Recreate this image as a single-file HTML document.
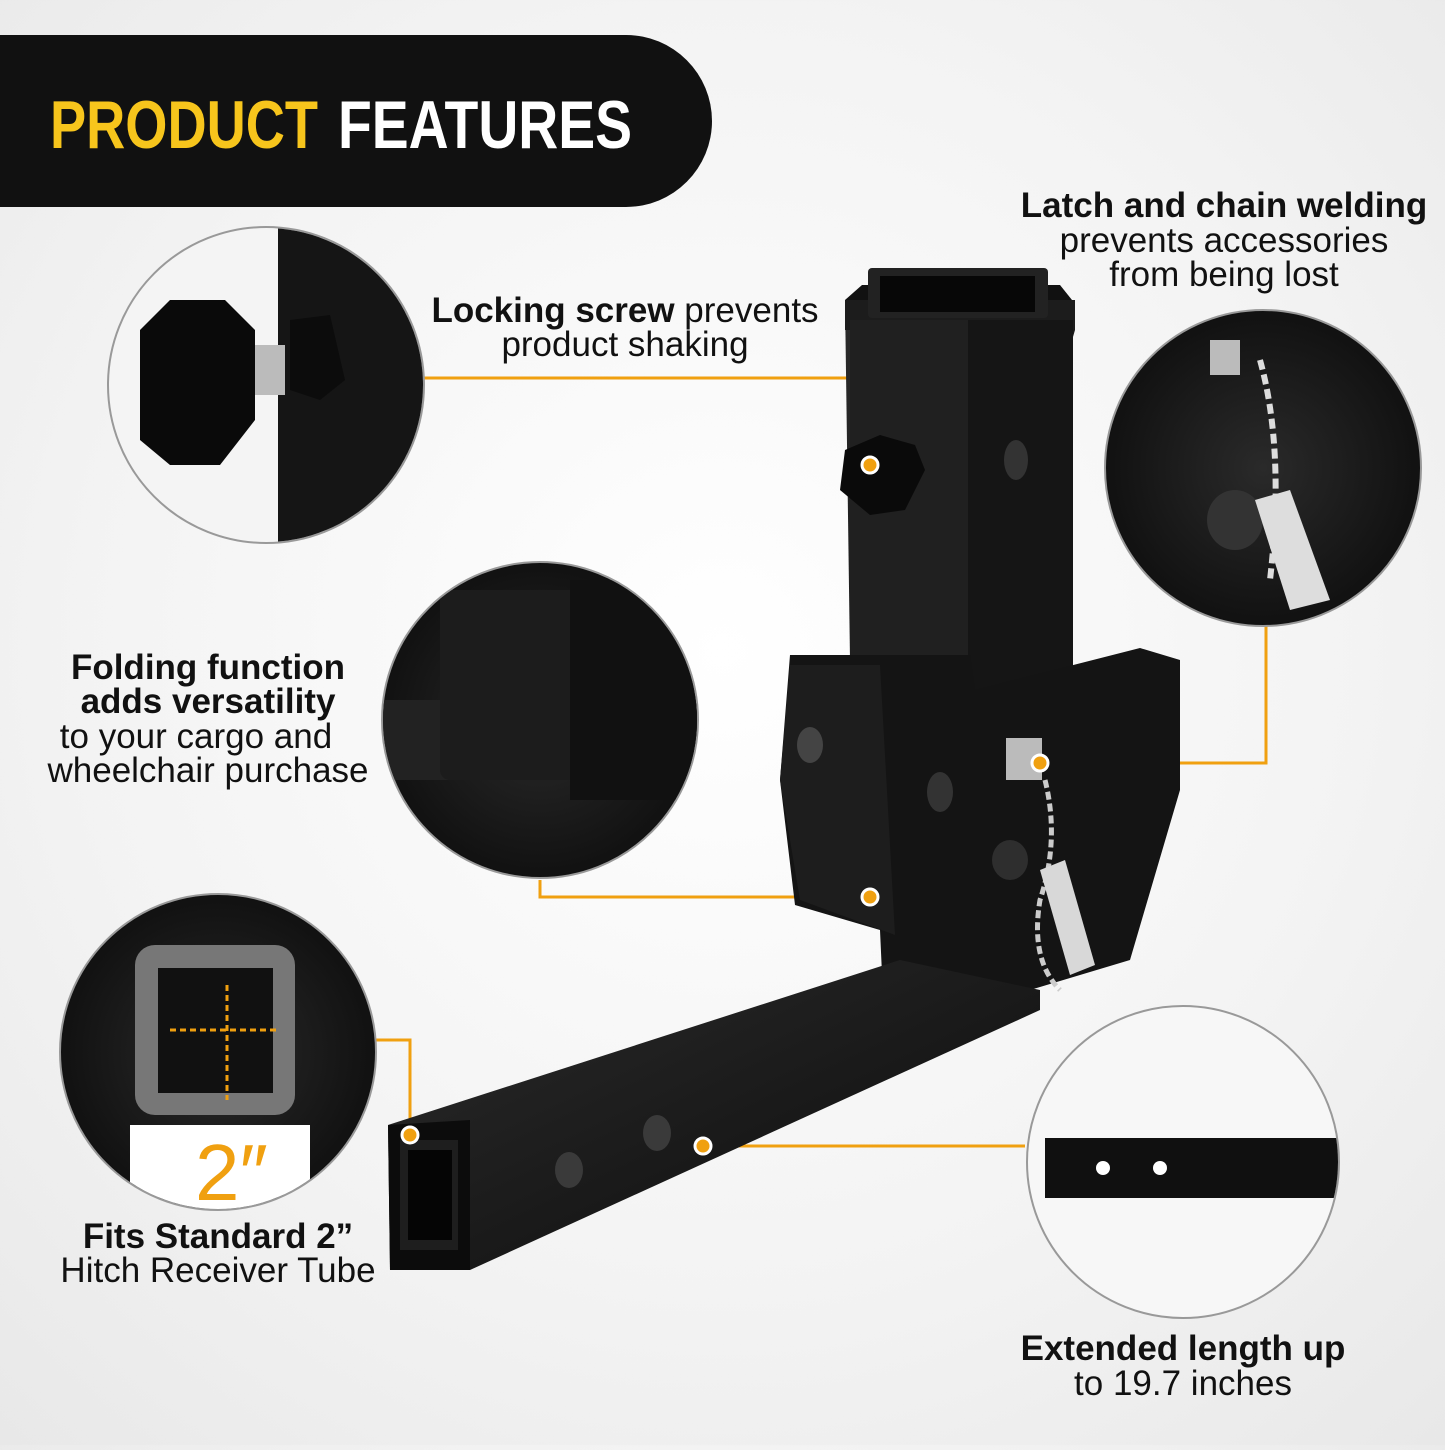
<!DOCTYPE html>
<html><head><meta charset="utf-8"><style>
html,body{margin:0;padding:0}
body{width:1445px;height:1445px;overflow:hidden;background:radial-gradient(circle at 50% 45%,#fff 0%,#f3f3f3 60%,#e8e8e8 100%);font-family:"Liberation Sans",sans-serif}
</style></head><body>
<svg width="1445" height="1445" viewBox="0 0 1445 1445" xmlns="http://www.w3.org/2000/svg" font-family="Liberation Sans, sans-serif">
<defs>
<radialGradient id="g1" cx="50%" cy="50%" r="60%"><stop offset="0" stop-color="#2a2a2a"/><stop offset="1" stop-color="#0c0c0c"/></radialGradient>
<linearGradient id="mb" x1="0" y1="0" x2="1" y2="1"><stop offset="0" stop-color="#2b2b2b"/><stop offset="1" stop-color="#0b0b0b"/></linearGradient>
<clipPath id="c1"><circle cx="266" cy="385" r="157"/></clipPath>
<clipPath id="c2"><circle cx="540" cy="720" r="157"/></clipPath>
<clipPath id="c3"><circle cx="218" cy="1052" r="157"/></clipPath>
<clipPath id="c4"><circle cx="1263" cy="468" r="157"/></clipPath>
<clipPath id="c5"><circle cx="1183" cy="1162" r="155"/></clipPath>
</defs>
<path d="M0 35 H626 A86 86 0 0 1 626 207 H0 Z" fill="#111"/>
<text x="50" y="148" font-size="68" font-weight="900" fill="#f7c51c" textLength="268" lengthAdjust="spacingAndGlyphs">PRODUCT</text>
<text x="338" y="148" font-size="68" font-weight="900" fill="#fff" textLength="294" lengthAdjust="spacingAndGlyphs">FEATURES</text>

<g stroke="#f0a010" stroke-width="3" fill="none">
<polyline points="424,378 870,378 870,465"/>
<polyline points="1040,763 1266,763 1266,608"/>
<polyline points="540,880 540,897 870,897"/>
<polyline points="376,1040 410,1040 410,1135"/>
<polyline points="703,1146 1025,1146"/>
</g>

<g>
<polygon points="845,300 1075,300 1075,330 968,700 850,660" fill="url(#mb)"/>
<polygon points="862,285 1060,285 1072,300 845,300" fill="#111"/>
<rect x="845" y="300" width="230" height="30" fill="#1c1c1c"/>
<rect x="868" y="268" width="180" height="50" fill="#222" rx="4"/>
<rect x="880" y="276" width="155" height="36" fill="#070707"/>
<rect x="965" y="320" width="108" height="380" fill="#151515"/>
<rect x="850" y="320" width="118" height="340" fill="#202020"/>
<polygon points="790,655 970,655 975,690 1140,648 1180,660 1180,790 1130,960 1030,990 910,1050 885,1040 880,930 795,905 780,780" fill="#141414"/>
<polygon points="790,665 880,665 895,935 800,900 780,780" fill="#1d1d1d"/>
<polygon points="388,1125 900,960 1040,990 1040,1010 470,1270 390,1270" fill="url(#mb)"/>
<polygon points="388,1125 470,1120 470,1270 390,1270" fill="#0c0c0c"/>
<rect x="400" y="1140" width="58" height="110" fill="#1e1e1e"/>
<rect x="408" y="1150" width="44" height="90" fill="#050505"/>
<ellipse cx="569" cy="1170" rx="14" ry="18" fill="#3a3a3a"/>
<ellipse cx="657" cy="1133" rx="14" ry="18" fill="#3a3a3a"/>
<ellipse cx="1016" cy="460" rx="12" ry="20" fill="#333"/>
<ellipse cx="810" cy="745" rx="13" ry="18" fill="#444"/>
<ellipse cx="940" cy="792" rx="13" ry="20" fill="#333"/>
<polygon points="845,450 880,435 915,445 925,470 905,510 870,515 840,490" fill="#0a0a0a"/>
<rect x="1006" y="738" width="36" height="42" fill="#bbb"/>
<path d="M1045 780 Q1060 840 1040 900 Q1030 960 1060 990" stroke="#ccc" stroke-width="5" fill="none" stroke-dasharray="8 4"/>
<polygon points="1040,870 1065,860 1095,965 1070,975" fill="#d8d8d8"/>
<ellipse cx="1010" cy="860" rx="18" ry="20" fill="#2e2e2e"/>
</g>
<g fill="#f0a010" stroke="#fff" stroke-width="3">
<circle cx="870" cy="465" r="8"/>
<circle cx="1040" cy="763" r="8"/>
<circle cx="870" cy="897" r="8"/>
<circle cx="410" cy="1135" r="8"/>
<circle cx="703" cy="1146" r="8"/>
</g>

<g stroke="#999" stroke-width="2">
<circle cx="266" cy="385" r="158" fill="#f4f4f4"/>
<circle cx="540" cy="720" r="158" fill="url(#g1)"/>
<circle cx="218" cy="1052" r="158" fill="url(#g1)"/>
<circle cx="1263" cy="468" r="158" fill="url(#g1)"/>
<circle cx="1183" cy="1162" r="156" fill="#f7f7f7"/>
</g>
<g clip-path="url(#c1)">
<rect x="278" y="220" width="200" height="330" fill="#151515"/>
<rect x="235" y="345" width="50" height="50" fill="#bbb"/>
<polygon points="140,330 170,300 225,300 255,330 255,420 220,465 170,465 140,440" fill="#0a0a0a"/>
<polygon points="290,320 330,315 345,380 320,400 290,390" fill="#0c0c0c"/>
</g>
<g clip-path="url(#c2)">
<path d="M380 700 L700 700 L700 780 L380 780 Z" fill="#222"/>
<rect x="440" y="590" width="140" height="190" fill="#1c1c1c" rx="10"/>
<rect x="570" y="580" width="130" height="220" fill="#111"/>
</g>
<g clip-path="url(#c3)">
<rect x="135" y="945" width="160" height="170" rx="20" fill="#777"/>
<rect x="158" y="968" width="115" height="125" fill="#111"/>
<g stroke="#f0a010" stroke-width="3" stroke-dasharray="6 4"><line x1="170" y1="1030" x2="280" y2="1030"/><line x1="227" y1="985" x2="227" y2="1100"/></g>
<rect x="130" y="1125" width="180" height="90" fill="#fff"/>
<text x="195" y="1200" font-size="80" fill="#f0a010">2″</text>
</g>
<g clip-path="url(#c4)">
<rect x="1210" y="340" width="30" height="35" fill="#bbb"/>
<path d="M1260 360 Q1285 450 1270 580" stroke="#ddd" stroke-width="6" fill="none" stroke-dasharray="10 5"/>
<ellipse cx="1235" cy="520" rx="28" ry="30" fill="#333"/>
<polygon points="1255,500 1290,490 1330,600 1290,610" fill="#ddd"/>
</g>
<g clip-path="url(#c5)">
<rect x="1045" y="1138" width="300" height="60" fill="#101010"/>
<circle cx="1103" cy="1168" r="7" fill="#fff"/><circle cx="1160" cy="1168" r="7" fill="#fff"/>
</g>

<g font-size="35" fill="#111" text-anchor="middle">
<text x="625" y="322"><tspan font-weight="bold">Locking screw</tspan> prevents</text>
<text x="625" y="356">product shaking</text>
<text x="1224" y="217" font-weight="bold">Latch and chain welding</text>
<text x="1224" y="252">prevents accessories</text>
<text x="1224" y="286">from being lost</text>
<text x="208" y="679" font-weight="bold">Folding function</text>
<text x="208" y="713" font-weight="bold">adds versatility</text>
<text x="196" y="748">to your cargo and</text>
<text x="208" y="782">wheelchair purchase</text>
<text x="218" y="1248" font-weight="bold">Fits Standard 2”</text>
<text x="218" y="1282">Hitch Receiver Tube</text>
<text x="1183" y="1360" font-weight="bold">Extended length up</text>
<text x="1183" y="1395">to 19.7 inches</text>
</g>
</svg>
</body></html>
